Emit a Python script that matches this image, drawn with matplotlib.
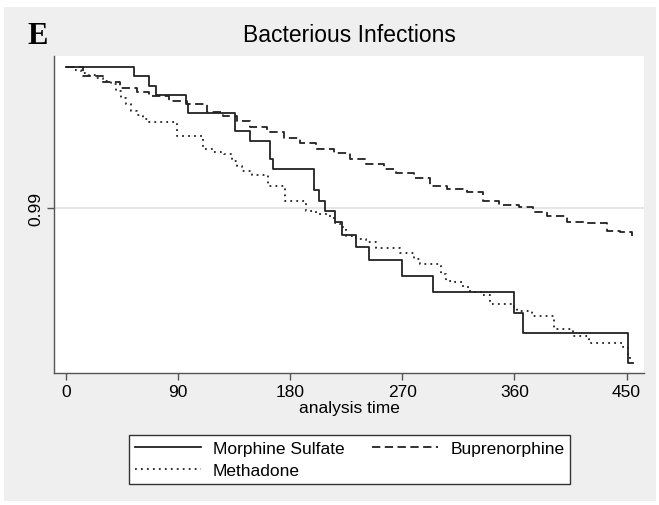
import matplotlib
matplotlib.use("Agg")
import matplotlib.pyplot as plt
from matplotlib.patches import Rectangle

plt.rcParams["font.family"] = "Liberation Sans"
plt.rcParams["lines.scale_dashes"] = False

# Kaplan-Meier estimates (time in days, survival)
morphine_t = [0, 54.6, 66.6, 72.3, 96.3, 98, 136, 147.7, 164, 166, 199.4, 203.1,
              208.2, 216, 221.3, 233.1, 243, 270, 295, 359.7, 366.6, 450.9, 455]
morphine_s = [1.0, .99936, .99868, .99804, .99738, .99672, .99545, .99479, .99349,
              .99278, .99132, .99054, .98979, .98901, .98813, .98724, .98634, .98523,
              .98406, .98259, .98115, .97905, .97905]

bupren_t = [0, 14, 30, 43, 57, 67, 83, 97, 113, 126, 137, 148, 161, 175, 188, 201,
            215, 228, 241, 255, 265, 279, 292, 306, 322, 335, 348, 364, 375, 386,
            402, 418, 434, 445, 454]
bupren_s = [1.0, .99939, .99892, .99849, .99821, .99797, .99761, .99738, .99679,
            .99655, .99620, .99573, .99538, .99500, .99460, .99420, .99391, .99349,
            .99313, .99278, .99250, .99212, .99160, .99137, .99118, .99054, .99023,
            .99007, .98972, .98943, .98901, .98896, .98842, .98830, .98805]

methad_t = [0, 6, 12, 18, 24, 30, 36, 40, 44, 48, 52, 57, 62, 67, 89, 110, 118, 127,
            133, 137, 141, 149, 162, 176, 193, 201, 212, 216, 220, 225, 233, 241,
            249, 268, 279, 284, 301, 305, 312, 319, 324, 333, 340, 360, 362, 374,
            392, 407, 420, 447, 451, 452.5, 453]
methad_s = [1.0, .99980, .99960, .99940, .99921, .99902, .99882, .99830, .99780,
            .99735, .99691, .99660, .99635, .99609, .99514, .99420, .99400, .99384,
            .99337, .99300, .99266, .99236, .99160, .99054, .98983, .98960, .98930,
            .98896, .98865, .98806, .98782, .98759, .98719, .98684, .98641, .98606,
            .98535, .98488, .98476, .98441, .98406, .98385, .98323, .98299, .98275,
            .98240, .98146, .98094, .98045, .98016, .97957, .97922, .97922]

xticks = [0, 90, 180, 270, 360, 450]
yticks = [0.99]

W, H = 659, 506
fig = plt.figure(figsize=(W / 100, H / 100), dpi=100)
fig.patch.set_facecolor("white")
fig.patches.append(Rectangle((4 / W, 4 / H), 652 / W, 494 / H, transform=fig.transFigure,
                             facecolor="#efefef", edgecolor="none", zorder=-5))

ax = fig.add_axes([54 / W, 1 - 374 / H, 590 / W, 317 / H])
ax.set_facecolor("white")

col = "#222222"
ax.axhline(0.99, color="#e4e4e4", lw=1.3, zorder=0)
l1, = ax.step(morphine_t, morphine_s, where="post", color=col, lw=1.3,
              label="Morphine Sulfate")
l3, = ax.step(bupren_t, bupren_s, where="post", color=col, lw=1.3,
              dashes=(6, 3.2), label="Buprenorphine")
l2, = ax.step(methad_t, methad_s, where="post", color=col, lw=1.3,
              dashes=(1.3, 3), label="Methadone")

ax.set_xlim(-9.6, 464)
ax.set_ylim(0.97834, 1.00078)
ax.set_xticks(xticks)
ax.set_yticks(yticks)
ax.set_yticklabels(["0.99"], rotation=90, va="center")
ax.tick_params(length=5, width=1, color="#555555", labelsize=12.5, pad=3)
for side in ("top", "right"):
    ax.spines[side].set_visible(False)
for side in ("left", "bottom"):
    ax.spines[side].set_color("#555555")
    ax.spines[side].set_linewidth(1)

ax.set_xlabel("analysis time", fontsize=12.5, labelpad=1)

fig.text(349 / W, 1 - 42 / H, "Bacterious Infections", ha="center", va="baseline",
         fontsize=16.5)
fig.text(27 / W, 1 - 44 / H, "E", ha="left", va="baseline", fontsize=22,
         fontweight="bold", family="Liberation Serif")

leg = fig.legend(handles=[l1, l2, l3], ncol=2, loc="center",
                 bbox_to_anchor=(349.5 / W, 1 - 460.5 / H), fontsize=12.5,
                 handlelength=3.8, handletextpad=0.7, columnspacing=1.6,
                 labelspacing=0.4, borderpad=0.35, fancybox=False, framealpha=1)
leg.get_frame().set_edgecolor("#333333")
leg.get_frame().set_linewidth(1)

fig.savefig("out.png", dpi=100)
